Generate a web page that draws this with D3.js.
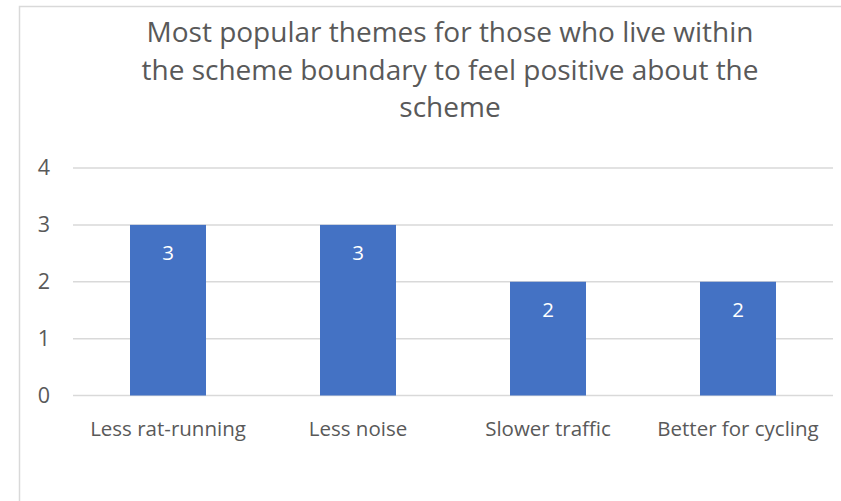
<!DOCTYPE html>
<html>
<head>
<meta charset="utf-8">
<script src="https://cdn.jsdelivr.net/npm/d3@7"></script>
<style>
  html, body { margin: 0; padding: 0; background: #ffffff; }
  svg { display: block; }
  text { font-family: "Open Sans", "Noto Sans", sans-serif; }
</style>
</head>
<body>
<svg id="chart" width="841" height="501"></svg>
<script>
// Chart data
const categories = ["Less rat-running", "Less noise", "Slower traffic", "Better for cycling"];
const counts = [3, 3, 2, 2];
const yTicks = [0, 1, 2, 3, 4];
const titleLines = [
  "Most popular themes for those who live within",
  "the scheme boundary to feel positive about the",
  "scheme"
];

const svg = d3.select("#chart");
const plot = { left: 73, right: 833, top: 168, bottom: 395.5 };

const textColor = "#595959";
const gridColor = "#d9d9d9";
const barColor = "#4472c4";

// Outer chart frame (only the left and top edges fall inside the view)
svg.append("rect")
  .attr("x", 19.5).attr("y", 6.5)
  .attr("width", 1000).attr("height", 800)
  .attr("fill", "#ffffff")
  .attr("stroke", gridColor)
  .attr("stroke-width", 1.5);

// Title
const title = svg.append("text")
  .attr("text-anchor", "middle")
  .attr("fill", textColor)
  .style("font-size", "28px");
titleLines.forEach((line, i) => {
  title.append("tspan")
    .attr("x", 450)
    .attr("y", 42 + i * 37.5)
    .text(line);
});

// Scales
const x = d3.scaleBand()
  .domain(categories)
  .range([plot.left, plot.right])
  .paddingInner(0.6)
  .paddingOuter(0.3);

const y = d3.scaleLinear()
  .domain([0, 4])
  .range([plot.bottom, plot.top]);

// Horizontal gridlines
svg.append("g")
  .selectAll("line")
  .data(yTicks)
  .join("line")
  .attr("x1", plot.left)
  .attr("x2", plot.right)
  .attr("y1", d => y(d))
  .attr("y2", d => y(d))
  .attr("stroke", gridColor)
  .attr("stroke-width", 1.5);

// Y axis labels
const yAxis = d3.axisLeft(y)
  .tickValues(yTicks)
  .tickFormat(d3.format("d"))
  .tickSize(0)
  .tickPadding(0);
const yG = svg.append("g")
  .attr("transform", `translate(${plot.left - 23},0)`)
  .call(yAxis);
yG.select(".domain").remove();
yG.selectAll("text")
  .attr("fill", textColor)
  .style("font-size", "21.5px")
  .style("font-family", "'Open Sans', sans-serif");

// Bars
svg.append("g")
  .selectAll("rect")
  .data(categories)
  .join("rect")
  .attr("x", d => x(d))
  .attr("y", (d, i) => y(counts[i]))
  .attr("width", x.bandwidth())
  .attr("height", (d, i) => y(0) - y(counts[i]))
  .attr("fill", barColor);

// Value labels inside the bars
svg.append("g")
  .selectAll("text")
  .data(categories)
  .join("text")
  .attr("x", d => x(d) + x.bandwidth() / 2)
  .attr("y", (d, i) => y(counts[i]) + 35.5)
  .attr("text-anchor", "middle")
  .attr("fill", "#ffffff")
  .style("font-size", "20.5px")
  .text((d, i) => counts[i]);

// Category axis labels
const xAxis = d3.axisBottom(x).tickSize(0).tickPadding(0);
const xG = svg.append("g")
  .attr("transform", `translate(0,${plot.bottom})`)
  .call(xAxis);
xG.select(".domain").remove();
xG.selectAll("text")
  .attr("dy", null)
  .attr("y", 40)
  .attr("fill", textColor)
  .style("font-size", "20.5px")
  .style("font-family", "'Open Sans', sans-serif");
</script>
</body>
</html>
